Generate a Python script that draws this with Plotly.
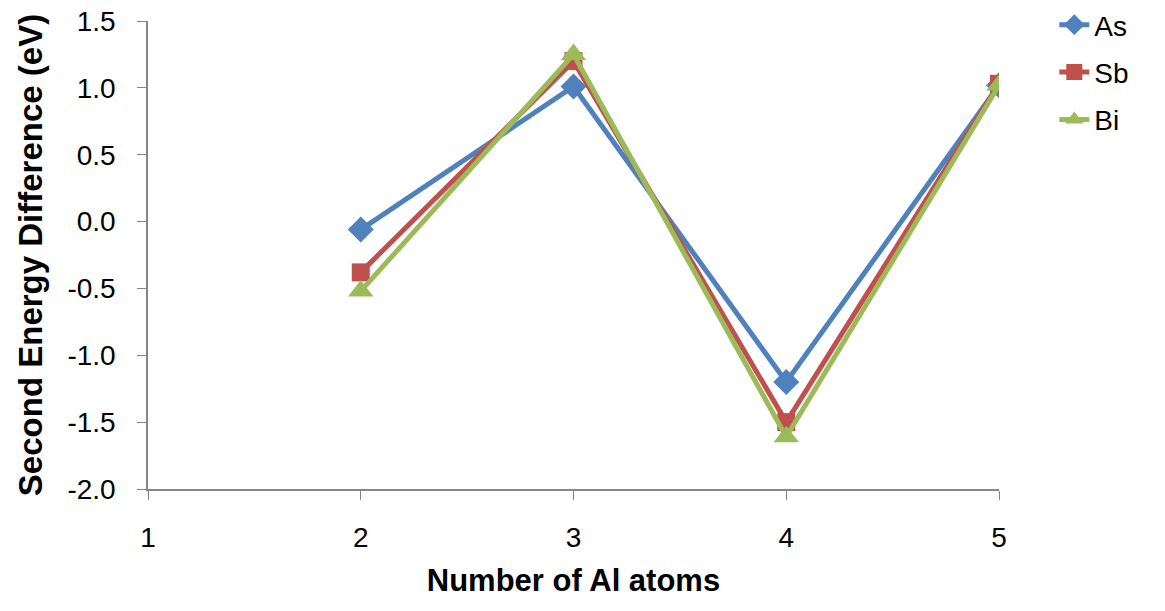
import plotly.graph_objects as go

x_atoms = [2, 3, 4, 5]
as_vals = [-0.06, 1.01, -1.20, 1.02]
sb_vals = [-0.38, 1.20, -1.50, 1.03]
bi_vals = [-0.52, 1.25, -1.61, 1.02]

y_ticks = [-2.0, -1.5, -1.0, -0.5, 0.0, 0.5, 1.0, 1.5]
y_ticktext = ["-2.0", "-1.5", "-1.0", "-0.5", "0.0", "0.5", "1.0", "1.5"]
x_ticks = [1, 2, 3, 4, 5]

series = [
    ("As", as_vals, "#4F81BD", "diamond", 20),
    ("Sb", sb_vals, "#C0504D", "square", 18),
    ("Bi", bi_vals, "#9BBB59", "triangle-up", 22),
]

fig = go.Figure()
for name, vals, color, sym, size in series:
    fig.add_trace(go.Scatter(
        x=x_atoms, y=vals, name=name, legendgroup=name, mode="lines+markers",
        line=dict(color=color, width=5),
        marker=dict(symbol=sym, size=size, color=color),
    ))

font = "Liberation Sans, Arial, sans-serif"
fig.update_layout(
    width=1165, height=611,
    margin=dict(l=148, r=166, t=21, b=122, autoexpand=False),
    plot_bgcolor="white", paper_bgcolor="white",
    font=dict(family=font, size=28, color="black"),
    showlegend=True,
    legend=dict(x=1.065, y=1.045, xanchor="left", yanchor="top",
                font=dict(size=28), tracegroupgap=8, itemsizing="trace",
                bgcolor="rgba(0,0,0,0)"),
    xaxis=dict(
        range=[1, 5], tickvals=x_ticks, showgrid=False, zeroline=False,
        showline=True, linecolor="#868686", linewidth=1.5,
        ticks="outside", ticklen=9, tickcolor="#868686",
        ticklabelstandoff=14,
        title=dict(text="<b>Number of Al atoms</b>", font=dict(size=31), standoff=17),
        tickfont=dict(size=28),
    ),
    yaxis=dict(
        range=[-2.0, 1.5], tickvals=y_ticks, ticktext=y_ticktext,
        showgrid=False, zeroline=False,
        showline=True, linecolor="#868686", linewidth=1.5,
        ticks="outside", ticklen=9, tickcolor="#868686",
        ticklabelstandoff=16,
        title=dict(text="<b>Second Energy Difference (eV)</b>", font=dict(size=33), standoff=15),
        tickfont=dict(size=28),
    ),
)
fig.write_html("out.html")
